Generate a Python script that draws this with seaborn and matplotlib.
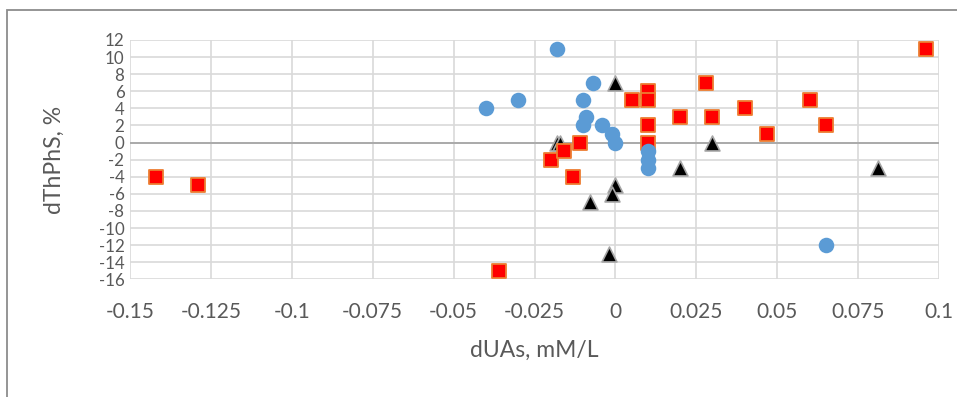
import matplotlib
matplotlib.use("Agg")
import matplotlib.pyplot as plt
from matplotlib.patches import Rectangle
import seaborn as sns
import pandas as pd

# Blue circles
blue_x = [-0.018, -0.040, -0.030, -0.007, -0.010, -0.009, -0.010, -0.004, -0.001, 0.000,
          0.010, 0.010, 0.010, 0.065]
blue_y = [11, 4, 5, 7, 5, 3, 2, 2, 1, 0, -1, -2, -3, -12]

# Red squares
red_x = [-0.142, -0.129, -0.036, -0.020, -0.016, -0.011, -0.013, 0.005, 0.010, 0.010,
         0.010, 0.010, 0.020, 0.028, 0.030, 0.040, 0.047, 0.060, 0.065, 0.096]
red_y = [-4, -5, -15, -2, -1, 0, -4, 5, 6, 5, 2, 0, 3, 7, 3, 4, 1, 5, 2, 11]

# Black triangles
tri_x = [-0.018, -0.017, 0.000, 0.000, -0.001, -0.008, -0.002, 0.020, 0.030, 0.081]
tri_y = [0, 0, 7, -5, -6, -7, -13, -3, 0, -3]

x_ticks = [-0.15, -0.125, -0.1, -0.075, -0.05, -0.025, 0, 0.025, 0.05, 0.075, 0.1]
x_tick_labels = ["-0.15", "-0.125", "-0.1", "-0.075", "-0.05", "-0.025", "0",
                 "0.025", "0.05", "0.075", "0.1"]
y_ticks = list(range(-16, 13, 2))
y_tick_labels = [str(v) for v in y_ticks]

sns.set_style("white")
plt.rcParams["font.family"] = ["Lato", "DejaVu Sans"]

fig = plt.figure(figsize=(9.57, 3.97), dpi=100)
ax = fig.add_axes([130 / 957, 1 - 279.3 / 397, 809 / 957, 239.3 / 397])

blue = pd.DataFrame({"x": blue_x, "y": blue_y})
red = pd.DataFrame({"x": red_x, "y": red_y})
tri = pd.DataFrame({"x": tri_x, "y": tri_y})

sns.scatterplot(data=tri, x="x", y="y", ax=ax, marker="^", s=115,
                color="black", edgecolor="#a5a5a5", linewidth=1.2, zorder=3)
sns.scatterplot(data=red, x="x", y="y", ax=ax, marker="s", s=105,
                color="#ff0000", edgecolor="#ed7d31", linewidth=1.3, zorder=4)
sns.scatterplot(data=blue, x="x", y="y", ax=ax, marker="o", s=125,
                color="#5b9bd5", edgecolor="#5b9bd5", linewidth=0, zorder=5)

ax.set_xlim(-0.15, 0.1)
ax.set_ylim(-16, 12)
ax.set_xticks(x_ticks)
ax.set_xticklabels(x_tick_labels)
ax.set_yticks(y_ticks)
ax.set_yticklabels(y_tick_labels)
ax.grid(True, color="#d9d9d9", linewidth=1.2)
ax.axhline(0, color="#a6a6a6", linewidth=1.3, zorder=2)
for sp in ax.spines.values():
    sp.set_visible(False)
ax.tick_params(axis="both", length=0, labelcolor="#595959")
ax.tick_params(axis="x", labelsize=15, pad=16)
ax.tick_params(axis="y", labelsize=12.2, pad=4)

ax.set_xlabel("dUAs, mM/L", fontsize=16.5, color="#595959", labelpad=13)
ax.set_ylabel("dThPhS, %", fontsize=16.5, color="#595959", labelpad=24)

# Chart frame, open toward the right and bottom edges
fig.add_artist(Rectangle((7 / 957, -0.1), 1.2, (1 - 10 / 397) + 0.1,
                         transform=fig.transFigure, fill=False,
                         edgecolor="#8c8c8c", linewidth=1.3))

fig.savefig("out.png", dpi=100, facecolor="white")
